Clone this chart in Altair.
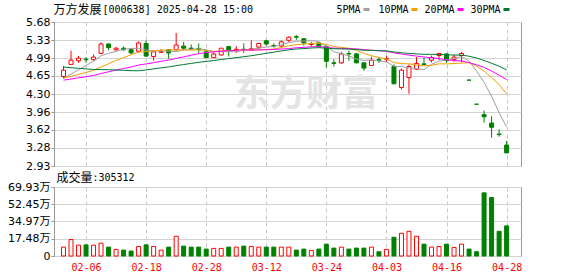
import altair as alt
import pandas as pd

# ---------------- data ----------------
dates = ["01-24", "01-27", "02-05", "02-06", "02-07", "02-10", "02-11", "02-12", "02-13", "02-14",
         "02-17", "02-18", "02-19", "02-20", "02-21", "02-24", "02-25", "02-26", "02-27", "02-28",
         "03-03", "03-04", "03-05", "03-06", "03-07", "03-10", "03-11", "03-12", "03-13", "03-14",
         "03-17", "03-18", "03-19", "03-20", "03-21", "03-24", "03-25", "03-26", "03-27", "03-28",
         "03-31", "04-01", "04-02", "04-03", "04-07", "04-08", "04-09", "04-10", "04-11", "04-14",
         "04-15", "04-16", "04-17", "04-18", "04-21", "04-22", "04-23", "04-24", "04-25", "04-28"]
opens = [4.64, 4.87, 4.94, 4.97, 4.96, 5.08, 5.26, 5.15, 5.18, 5.15,
         5.12, 5.27, 5.02, 5.10, 5.15, 5.15, 5.22, 5.18, 5.17, 5.11,
         5.00, 5.05, 5.21, 5.15, 5.16, 5.15, 5.20, 5.32, 5.23, 5.22,
         5.33, 5.40, 5.36, 5.25, 5.28, 5.21, 4.90, 4.90, 5.08, 5.07,
         4.90, 4.85, 4.96, 4.97, 4.83, 4.43, 4.62, 4.78, 4.88, 4.95,
         5.04, 5.07, 4.96, 5.04, 4.57, 4.11, 3.91, 3.75, 3.54, 3.33]
highs = [4.84, 5.13, 5.03, 5.01, 5.06, 5.29, 5.27, 5.20, 5.21, 5.16,
         5.31, 5.33, 5.11, 5.16, 5.16, 5.47, 5.30, 5.25, 5.27, 5.15,
         5.10, 5.18, 5.22, 5.22, 5.27, 5.33, 5.27, 5.34, 5.27, 5.33,
         5.41, 5.43, 5.37, 5.30, 5.29, 5.23, 4.97, 5.11, 5.13, 5.09,
         4.90, 5.02, 5.00, 5.04, 4.87, 4.79, 4.87, 5.01, 5.00, 5.04,
         5.08, 5.08, 5.05, 5.11, 4.57, 4.11, 3.99, 3.88, 3.63, 3.41]
lows = [4.60, 4.87, 4.90, 4.90, 4.94, 5.07, 5.14, 5.13, 5.13, 5.07,
        5.10, 5.01, 4.94, 5.09, 4.98, 5.14, 5.14, 5.14, 5.09, 4.99,
        5.00, 5.04, 5.02, 5.09, 5.09, 5.14, 5.16, 5.23, 5.19, 5.20,
        5.30, 5.34, 5.23, 5.21, 5.20, 4.81, 4.83, 4.88, 4.94, 4.89,
        4.75, 4.85, 4.90, 4.91, 4.50, 4.39, 4.31, 4.77, 4.87, 4.91,
        4.95, 4.90, 4.92, 4.91, 4.57, 4.11, 3.76, 3.47, 3.49, 3.18]
closes = [4.76, 4.95, 4.99, 4.96, 5.01, 5.26, 5.19, 5.18, 5.15, 5.09,
          5.28, 5.03, 5.11, 5.11, 5.09, 5.24, 5.18, 5.17, 5.16, 5.00,
          5.07, 5.18, 5.15, 5.16, 5.15, 5.17, 5.27, 5.26, 5.22, 5.30,
          5.39, 5.39, 5.28, 5.26, 5.21, 4.93, 4.89, 5.07, 5.07, 4.90,
          4.80, 4.95, 4.95, 4.98, 4.50, 4.76, 4.83, 4.89, 4.87, 5.00,
          5.08, 4.94, 5.01, 5.08, 4.57, 4.11, 3.87, 3.67, 3.53, 3.18]
volumes = [9.0, 16.7, 11.0, 11.3, 11.0, 13.0, 9.0, 6.7, 6.0, 5.0,
           9.7, 11.3, 9.7, 6.0, 9.0, 20.0, 10.0, 9.0, 9.0, 7.0,
           7.7, 7.7, 9.0, 9.0, 10.0, 9.7, 9.0, 9.0, 9.0, 9.0,
           9.0, 6.0, 7.0, 5.7, 7.0, 12.0, 8.0, 9.0, 7.0, 8.0,
           8.0, 9.0, 4.3, 6.7, 19.0, 23.0, 25.0, 20.0, 12.0, 9.0,
           9.7, 12.0, 8.7, 12.0, 7.0, 4.3, 64.0, 59.3, 25.0, 30.53]  # 万
ma5 = [4.608, 4.684, 4.768, 4.846, 4.934, 5.034, 5.082, 5.12, 5.158, 5.174,
       5.178, 5.146, 5.132, 5.124, 5.124, 5.116, 5.146, 5.158, 5.168, 5.15,
       5.116, 5.116, 5.112, 5.112, 5.142, 5.162, 5.18, 5.202, 5.214, 5.244,
       5.288, 5.312, 5.316, 5.324, 5.306, 5.214, 5.114, 5.072, 5.034, 4.972,
       4.946, 4.958, 4.934, 4.916, 4.836, 4.828, 4.804, 4.792, 4.77, 4.87,
       4.934, 4.956, 4.98, 5.022, 4.936, 4.742, 4.528, 4.26, 3.95, 3.672]
ma10 = [4.609, 4.643, 4.681, 4.716, 4.756, 4.821, 4.883, 4.944, 5.002, 5.054,
        5.106, 5.114, 5.126, 5.141, 5.149, 5.147, 5.146, 5.145, 5.146, 5.137,
        5.116, 5.131, 5.135, 5.14, 5.146, 5.139, 5.148, 5.157, 5.163, 5.193,
        5.225, 5.246, 5.259, 5.269, 5.275, 5.251, 5.213, 5.194, 5.179, 5.139,
        5.08, 5.036, 5.003, 4.975, 4.904, 4.887, 4.881, 4.863, 4.843, 4.853,
        4.881, 4.88, 4.886, 4.896, 4.903, 4.838, 4.742, 4.62, 4.486, 4.304]
ma20 = [4.570, 4.591, 4.614, 4.635, 4.659, 4.696, 4.729, 4.761, 4.792, 4.82,
        4.858, 4.879, 4.904, 4.929, 4.953, 4.984, 5.015, 5.045, 5.074, 5.096,
        5.111, 5.123, 5.131, 5.141, 5.148, 5.143, 5.147, 5.151, 5.155, 5.165,
        5.171, 5.189, 5.197, 5.205, 5.211, 5.195, 5.181, 5.176, 5.171, 5.166,
        5.153, 5.141, 5.131, 5.122, 5.09, 5.069, 5.047, 5.029, 5.011, 4.996,
        4.981, 4.958, 4.945, 4.936, 4.904, 4.863, 4.812, 4.742, 4.665, 4.579]
ma30 = [4.82, 4.807, 4.796, 4.784, 4.774, 4.772, 4.768, 4.763, 4.757, 4.75,
        4.748, 4.765, 4.784, 4.804, 4.822, 4.846, 4.868, 4.889, 4.91, 4.926,
        4.944, 4.963, 4.981, 4.999, 5.017, 5.036, 5.059, 5.082, 5.104, 5.128,
        5.149, 5.164, 5.173, 5.183, 5.19, 5.179, 5.169, 5.165, 5.163, 5.156,
        5.14, 5.138, 5.132, 5.128, 5.108, 5.092, 5.081, 5.071, 5.062, 5.062,
        5.062, 5.054, 5.049, 5.047, 5.027, 4.992, 4.945, 4.892, 4.836, 4.765]
ma_names = ["5PMA", "10PMA", "20PMA", "30PMA"]
ma_colors = ["#a0a0a0", "#f0a000", "#ff00ff", "#007a33"]
price_ticks = [2.93, 3.28, 3.62, 3.96, 4.30, 4.65, 4.99, 5.33, 5.68]
vol_ticks = [0, 17.48, 34.97, 52.45, 69.93]
date_ticks = ["02-06", "02-18", "02-28", "03-12", "03-24", "04-03", "04-16", "04-28"]
stock_name = "万方发展"
stock_info = "[000638] 2025-04-28 15:00"
vol_name = "成交量"
vol_info = ":305312"
watermark = "东方财富"

# ---------------- tables ----------------
RED = "#ff0000"
GREEN = "#008000"
n = len(dates)
idx = list(range(n))
up = [c > o for o, c in zip(opens, closes)]
df = pd.DataFrame({
    "i": idx, "date": dates, "open": opens, "high": highs, "low": lows,
    "close": closes, "vol": volumes,
    "col": [RED if u else GREEN for u in up],
    "fill": ["#ffffff" if u else GREEN for u in up],
})
ma_df = pd.DataFrame({
    "i": idx * 4,
    "ma": ma5 + ma10 + ma20 + ma30,
    "name": sum([[nm] * n for nm in ma_names], []),
})
tick_idx = [dates.index(d) for d in date_ticks]

FONT_CJK = "Noto Sans CJK SC"
FONT_MONO = "DejaVu Sans Mono, Noto Sans CJK SC"

XS = alt.Scale(domain=[-0.6, 60.25], nice=False, zero=False)
YS = alt.Scale(domain=[2.93, 5.68], nice=False, zero=False)
YV = alt.Scale(domain=[0, 69.93], nice=False, zero=False)

grid_x = dict(values=tick_idx, ticks=False, domain=False, grid=True,
              gridDash=[4, 3], gridColor="#c8c8c8", title=None)
x_main = alt.X("i:Q", scale=XS, axis=alt.Axis(labels=False, **grid_x))
label_expr = "[" + ",".join("'%s'" % d for d in dates) + "][datum.value]"
x_vol = alt.X("i:Q", scale=XS, axis=alt.Axis(
    labelExpr=label_expr, labelColor=RED, labelFont="DejaVu Sans Mono",
    labelFontSize=10, labelPadding=6, labelFlush=False, labelOverlap=False, **grid_x))

y_common = dict(grid=True, gridColor="#d4d4d4", domainColor="#999999",
                tickColor="#999999", tickSize=3, labelPadding=1,
                labelFont="DejaVu Sans, Noto Sans CJK SC", labelFontSize=11,
                labelColor="#000000", title=None)
y_axis = alt.Axis(values=price_ticks, format=".2f", **y_common)
yv_axis = alt.Axis(values=vol_ticks,
                   labelExpr="datum.value == 0 ? '0' : format(datum.value, '.2f') + '万'",
                   **y_common)

def txt(s, x, y, color="#000000", font=FONT_MONO, size=10, align="left", weight="normal"):
    return alt.Chart(pd.DataFrame({"t": [s]})).mark_text(
        align=align, baseline="middle", font=font, fontSize=size,
        color=color, fontWeight=weight).encode(
        text="t:N", x=alt.value(x), y=alt.value(y))

# ---------------- main (price) panel ----------------
wm = txt(watermark, 252, 73, color="#e4e4e4", font=FONT_CJK, size=36,
         align="center", weight="bold")
wicks = alt.Chart(df).mark_rule(strokeWidth=1).encode(
    x=x_main, y=alt.Y("low:Q", scale=YS, axis=y_axis), y2="high:Q",
    color=alt.Color("col:N", scale=None))
bodies = alt.Chart(df).mark_bar(size=4, strokeWidth=1).encode(
    x=x_main, y=alt.Y("open:Q", scale=YS, axis=y_axis), y2="close:Q",
    fill=alt.Fill("fill:N", scale=None), stroke=alt.Stroke("col:N", scale=None))
lines = alt.Chart(ma_df).mark_line(strokeWidth=1).encode(
    x=x_main, y=alt.Y("ma:Q", scale=YS, axis=y_axis),
    color=alt.Color("name:N", scale=alt.Scale(domain=ma_names, range=ma_colors), legend=None))

head = [txt(stock_name, -0.5, -12.5, font=FONT_CJK, size=12),
        txt(stock_info, 48.5, -12.5)]
leg_text_x = [282.5, 324.5, 370.5, 416.5]
leg_mark_x = [309.5, 357.5, 403.5, 449.5]
for nm, col, tx, mx in zip(ma_names, ma_colors, leg_text_x, leg_mark_x):
    head.append(txt(nm, tx, -12.5))
    head.append(alt.Chart(pd.DataFrame({"n": [nm]})).mark_rect(color=col).encode(
        x=alt.value(mx), x2=alt.value(mx + 6), y=alt.value(-14), y2=alt.value(-11)))

main = alt.layer(wm, wicks, bodies, lines, *head).properties(width=467, height=144)

# ---------------- volume panel ----------------
vbars = alt.Chart(df).mark_bar(size=4, strokeWidth=1).encode(
    x=x_vol, y=alt.Y("vol:Q", scale=YV, axis=yv_axis),
    fill=alt.Fill("fill:N", scale=None), stroke=alt.Stroke("col:N", scale=None))
vhead = [txt(vol_name, 2.5, -9, font=FONT_CJK, size=12), txt(vol_info, 38.5, -9)]
vol = alt.layer(vbars, *vhead).properties(width=467, height=69)

chart = alt.vconcat(main, vol, spacing=21, bounds="flush").properties(
    padding={"left": 7, "top": 3, "right": 0, "bottom": 0},
    background="#ffffff",
).configure_view(stroke="#999999", strokeWidth=1)

chart.save("out.html", embed_options={"renderer": "svg", "actions": False})
